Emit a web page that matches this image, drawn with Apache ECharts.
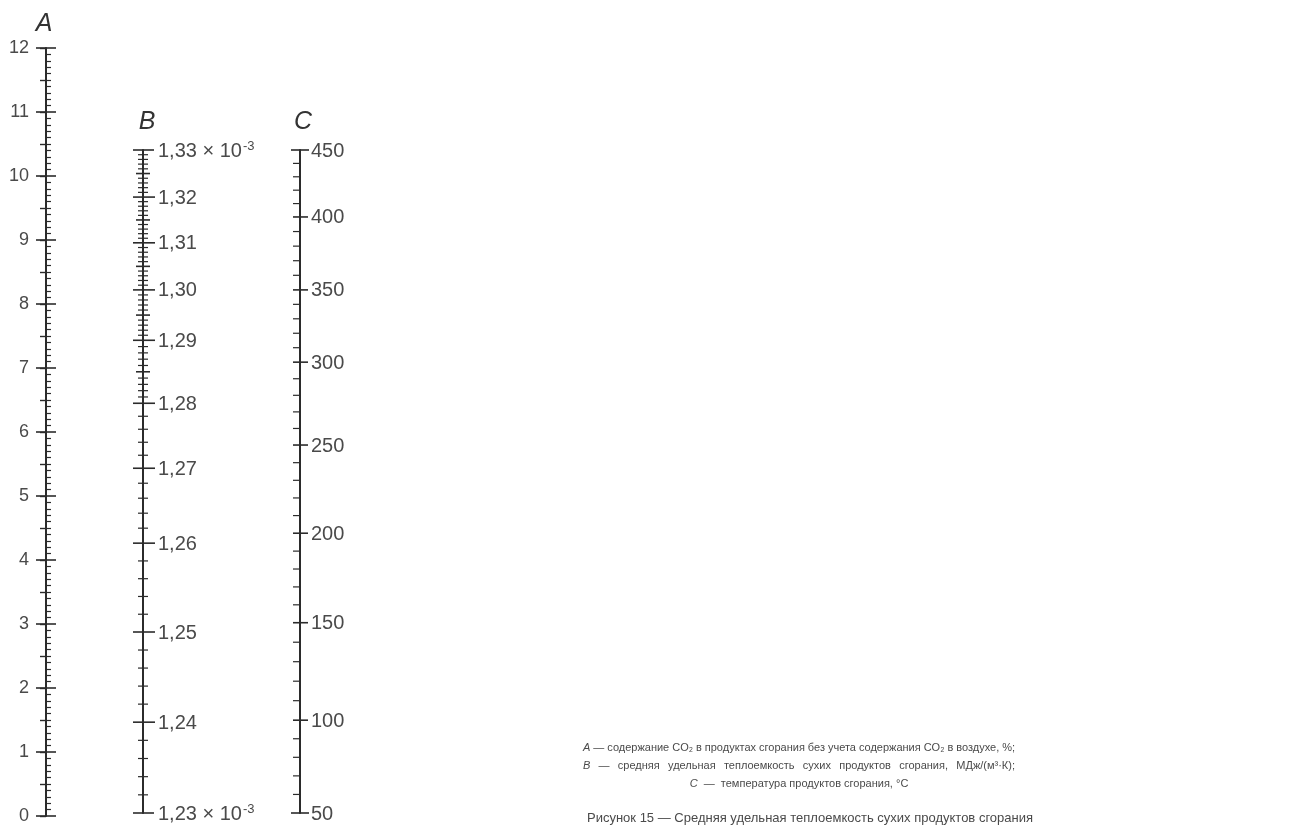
<!DOCTYPE html>
<html><head><meta charset="utf-8">
<script src="https://cdn.jsdelivr.net/npm/echarts@6/dist/echarts.min.js"></script>
<style>html,body{margin:0;background:#fff}#c{width:1306px;height:825px}</style>
</head><body><div id="c"></div>
<script>
// ---- Scale A: CO2 content, % (linear) ----
const aMin = 0, aMax = 12, aMajorStep = 1, aHalfStep = 0.5, aMinorSplit = 10;

// ---- Scale B: mean specific heat capacity (non-linear nomogram scale) ----
// labelled values and their relative position along the scale (0 = bottom end, 1 = top end)
const bValues   = [1.23, 1.24, 1.25, 1.26, 1.27, 1.28, 1.29, 1.30, 1.31, 1.32, 1.33];
const bLabels   = ['1,23 × 10{sup|-3}', '1,24', '1,25', '1,26', '1,27', '1,28', '1,29', '1,30', '1,31', '1,32', '1,33 × 10{sup|-3}'];
const bScalePos = [0, 0.137, 0.273, 0.407, 0.520, 0.618, 0.713, 0.789, 0.860, 0.929, 1];
const bFineFrom = 1.28;          // above this value ticks every 0.001, below every 0.002

// ---- Scale C: temperature, °C (non-linear nomogram scale) ----
const cValues   = [50, 100, 150, 200, 250, 300, 350, 400, 450];
const cLabels   = ['50', '100', '150', '200', '250', '300', '350', '400', '450'];
const cScalePos = [0, 0.140, 0.287, 0.422, 0.555, 0.680, 0.789, 0.899, 1];
const cStep = 10;

const legendLine1 = ['A', '—', 'содержание', 'CO₂', 'в', 'продуктах', 'сгорания', 'без', 'учета', 'содержания', 'CO₂', 'в', 'воздухе,', '%;'];
const legendLine2 = ['B', '—', 'средняя', 'удельная', 'теплоемкость', 'сухих', 'продуктов', 'сгорания,', 'МДж/(м³·К);'];
const legendLine3 = 'C  —  температура продуктов сгорания, °C';
const caption = 'Рисунок 15 — Средняя удельная теплоемкость сухих продуктов сгорания';

const FONT = '"Liberation Sans", Arial, "DejaVu Sans", sans-serif';
const AXIS = '#2b2b2b', TXT = '#4a4a4a';

function interp(v, vals, pos) {
  for (let i = 0; i < vals.length - 1; i++) {
    if (v >= vals[i] - 1e-9 && v <= vals[i + 1] + 1e-9) {
      return pos[i] + (v - vals[i]) / (vals[i + 1] - vals[i]) * (pos[i + 1] - pos[i]);
    }
  }
  return null;
}

// B ticks
const bTicks = [];
{
  const lo = Math.round(bValues[0] * 1000), hi = Math.round(bValues[bValues.length - 1] * 1000);
  for (let k = lo; k <= hi; k++) {
    const v = k / 1000;
    const isMajor = k % 10 === 0;
    const isHalf = k % 5 === 0;
    if (!isMajor && v < bFineFrom && k % 2 !== 0) continue;
    const idx = bValues.findIndex(x => Math.abs(x - v) < 1e-9);
    const kind = isMajor ? (idx === 0 || idx === bValues.length - 1 ? 'end' : 'major') : (isHalf ? 'half' : 'minor');
    bTicks.push([0, interp(v, bValues, bScalePos), kind, idx >= 0 ? bLabels[idx] : '']);
  }
}
// C ticks
const cTicks = [];
for (let v = cValues[0]; v <= cValues[cValues.length - 1]; v += cStep) {
  const idx = cValues.indexOf(v);
  const kind = idx === 0 || idx === cValues.length - 1 ? 'end' : (idx >= 0 ? 'major' : 'minor');
  cTicks.push([0, interp(v, cValues, cScalePos), kind, idx >= 0 ? cLabels[idx] : '']);
}

const tickLen = {
  B: { end: [10, 11], major: [10, 12], half: [7, 7], minor: [5, 5] },
  C: { end: [9, 9], major: [7, 8], minor: [7, 0] }
};

function makeRender(scale, labelDx) {
  return function (params, api) {
    const p = api.coord([0, api.value(1)]);
    const kind = api.value(2);
    const lab = api.value(3);
    const L = tickLen[scale][kind];
    const children = [{
      type: 'line',
      shape: { x1: p[0] - L[0], y1: p[1], x2: p[0] + L[1], y2: p[1] },
      style: { stroke: AXIS, lineWidth: kind === 'minor' ? 1.2 : 1.6 }
    }];
    if (lab) {
      children.push({
        type: 'text',
        style: {
          text: lab, x: p[0] + labelDx, y: p[1] + 1, verticalAlign: 'middle', align: 'left',
          font: '20px ' + FONT, fill: TXT,
          rich: { sup: { fontSize: 13, fontFamily: FONT, verticalAlign: 'top', fill: TXT, padding: [0, 0, 9, 1] } }
        }
      });
    }
    return { type: 'group', children };
  };
}

const hiddenX = (gi) => ({ gridIndex: gi, type: 'value', min: 0, max: 1, show: false });
const hiddenY = (gi) => ({ gridIndex: gi, type: 'value', min: 0, max: 1,
  axisLine: { show: true, lineStyle: { color: AXIS, width: 2 } },
  axisTick: { show: false }, axisLabel: { show: false }, splitLine: { show: false } });

// text helpers for justified legend lines
const ctx = document.createElement('canvas').getContext('2d');
function justified(words, x0, x1, y, size) {
  const f = (i) => (i === 0 ? 'italic ' : '') + size + 'px ' + FONT;
  const widths = words.map((w, i) => { ctx.font = f(i); return ctx.measureText(w).width; });
  const total = widths.reduce((a, b) => a + b, 0);
  const gap = (x1 - x0 - total) / (words.length - 1);
  let x = x0;
  return words.map((w, i) => {
    const el = { type: 'text', x: x, y: y, style: { text: w, font: f(i), fill: TXT, verticalAlign: 'middle' } };
    x += widths[i] + gap;
    return el;
  });
}

const chart = echarts.init(document.getElementById('c'));
chart.setOption({
  backgroundColor: '#fff',
  animation: false,
  grid: [
    { left: 46, top: 48, height: 769, width: 1 },
    { left: 143, top: 150, height: 663, width: 1 },
    { left: 300, top: 150, height: 663, width: 1 }
  ],
  xAxis: [hiddenX(0), hiddenX(1), hiddenX(2)],
  yAxis: [
    { gridIndex: 0, type: 'value', min: aMin, max: aMax, interval: aMajorStep, position: 'left',
      axisLine: { show: true, lineStyle: { color: AXIS, width: 2 } },
      axisTick: { show: true, length: 10, lineStyle: { color: AXIS, width: 1.6 } },
      axisLabel: { margin: 17, fontSize: 18, color: TXT, fontFamily: FONT },
      splitLine: { show: false } },
    { gridIndex: 0, type: 'value', min: aMin, max: aMax, interval: aMajorStep, position: 'left',
      axisLine: { show: false },
      axisTick: { show: true, inside: true, length: 10, lineStyle: { color: AXIS, width: 1.6 } },
      minorTick: { show: true, splitNumber: aMinorSplit, length: 5, lineStyle: { color: AXIS, width: 1.2 } },
      axisLabel: { show: false }, splitLine: { show: false } },
    { gridIndex: 0, type: 'value', min: aMin, max: aMax, interval: aHalfStep, position: 'left',
      axisLine: { show: false },
      axisTick: { show: true, length: 6, lineStyle: { color: AXIS, width: 1.4 } },
      axisLabel: { show: false }, splitLine: { show: false } },
    hiddenY(1),
    hiddenY(2)
  ],
  series: [
    { type: 'custom', xAxisIndex: 1, yAxisIndex: 3, data: bTicks, renderItem: makeRender('B', 15), clip: false, silent: true },
    { type: 'custom', xAxisIndex: 2, yAxisIndex: 4, data: cTicks, renderItem: makeRender('C', 11), clip: false, silent: true }
  ],
  graphic: [
    { type: 'text', x: 44, y: 24, style: { text: 'A', font: 'italic 25px ' + FONT, fill: '#333', align: 'center', verticalAlign: 'middle' } },
    { type: 'text', x: 147, y: 122, style: { text: 'B', font: 'italic 25px ' + FONT, fill: '#333', align: 'center', verticalAlign: 'middle' } },
    { type: 'text', x: 303, y: 122, style: { text: 'C', font: 'italic 25px ' + FONT, fill: '#333', align: 'center', verticalAlign: 'middle' } },
    ...justified(legendLine1, 583, 1015, 748, 11),
    ...justified(legendLine2, 583, 1015, 766, 11),
    { type: 'text', x: 799, y: 784, style: { text: '{i|C}' + legendLine3.slice(1), font: '11px ' + FONT, fill: TXT, align: 'center', verticalAlign: 'middle',
      rich: { i: { fontStyle: 'italic', fontSize: 11, fontFamily: FONT, fill: TXT } } } },
    { type: 'text', x: 810, y: 818, style: { text: caption, font: '13px ' + FONT, fill: TXT, align: 'center', verticalAlign: 'middle' } }
  ]
});
</script>
</body></html>
